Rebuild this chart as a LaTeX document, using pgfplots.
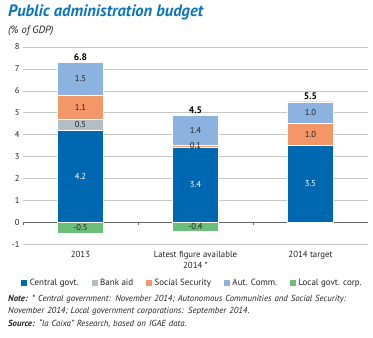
\documentclass[border=0pt]{standalone}
\usepackage{fontspec}
\setmainfont{PT Sans}
\usepackage{pgfplots}
\pgfplotsset{compat=1.18}
\definecolor{cgov}{HTML}{0067B1}
\definecolor{bank}{HTML}{B2BEC3}
\definecolor{soc}{HTML}{F39668}
\definecolor{aut}{HTML}{8CB3E0}
\definecolor{loc}{HTML}{6BBF7B}
\definecolor{titleblue}{HTML}{0A74BD}
\definecolor{txt}{HTML}{222222}
\pgfplotsset{base/.style={at={(23pt,94pt)}, anchor=south west,
  scale only axis, width=345pt, height=197pt,
  xmin=-0.5, xmax=2.5, ymin=-1, ymax=8}}
\begin{document}
\begin{tikzpicture}[x=1pt,y=1pt]
\path[use as bounding box] (0,0) rectangle (373,338);
\node[anchor=base west, inner sep=0, font=\fontsize{16.5}{18}\selectfont\bfseries\itshape, text=titleblue] at (8,321) {Public administration budget};
\node[anchor=base west, inner sep=0, font=\fontsize{10.5}{12}\selectfont\itshape, text=txt] at (8,304) {(\% of GDP)};
\begin{axis}[base,
  ybar stacked, bar width=46pt,
  xtick={0,1,2},
  xticklabels={2013,{Latest figure available\\2014 *},2014 target},
  xticklabel style={align=center, font=\fontsize{8.8}{11}\selectfont, text=txt, yshift=-4pt},
  ytick={-1,0,...,8},
  yticklabel style={font=\fontsize{8.5}{10}\selectfont, text=txt},
  /pgf/number format/assume math mode=true,
  ymajorgrids, major grid style={draw=black!22, line width=0.5pt},
  axis line style={draw=none}, tick style={draw=none},
  major tick length=0pt,
  legend columns=5,
  legend style={at={(0.49,-0.198)}, anchor=center, draw=none, font=\fontsize{9}{10}\selectfont, text=txt,
     /tikz/every even column/.append style={column sep=10pt}},
  legend image code/.code={\fill[#1] (0pt,-3.5pt) rectangle (7pt,3.5pt);},
  every axis plot/.append style={draw=white, line width=0.4pt},
]
\addplot[fill=cgov] coordinates {(0,4.2) (1,3.4) (2,3.5)};
\addplot[fill=bank] coordinates {(0,0.5) (1,0) (2,0)};
\addplot[fill=soc] coordinates {(0,1.1) (1,0.1) (2,1.0)};
\addplot[fill=aut] coordinates {(0,1.5) (1,1.4) (2,1.0)};
\addplot[fill=loc, stack plots=false] coordinates {(0,-0.5) (1,-0.4)};
\legend{Central govt.,Bank aid,Social Security,Aut. Comm.,Local govt. corp.}
\draw[black!60, line width=0.8pt] (axis cs:-0.5,0) -- (axis cs:2.5,0);
\draw[black!60, line width=0.6pt] (axis cs:-0.5,0) -- ++(0pt,-3pt);
\draw[black!60, line width=0.6pt] (axis cs:0.5,0) -- ++(0pt,-3pt);
\draw[black!60, line width=0.6pt] (axis cs:1.5,0) -- ++(0pt,-3pt);
\draw[black!60, line width=0.6pt] (axis cs:2.5,0) -- ++(0pt,-3pt);
\end{axis}
\begin{axis}[base, hide axis]
\addplot[only marks, mark=none, nodes near coords, point meta=explicit symbolic,
  every node near coord/.append style={anchor=center, font=\fontsize{8.6}{10}\selectfont, text=white}]
  coordinates {(0,2.1)[4.2] (1,1.7)[3.4] (2,1.75)[3.5]};
\addplot[only marks, mark=none, nodes near coords, point meta=explicit symbolic,
  every node near coord/.append style={anchor=center, font=\fontsize{8.6}{10}\selectfont, text=txt}]
  coordinates {(0,4.45)[0.5] (0,5.25)[1.1] (0,6.55)[1.5] (0,-0.25)[-0.5]
               (1,3.5)[0.1] (1,4.17)[1.4] (1,-0.2)[-0.4]
               (2,4.0)[1.0] (2,5.0)[1.0]};
\addplot[only marks, mark=none, nodes near coords, point meta=explicit symbolic,
  every node near coord/.append style={anchor=south, font=\fontsize{9.5}{10}\selectfont\bfseries, text=black, inner sep=1.5pt}]
  coordinates {(0,7.3)[6.8] (1,4.9)[4.5] (2,5.5)[5.5]};
\end{axis}
\node[anchor=north west, inner sep=0, text width=365pt, align=left, font=\fontsize{8.8}{12.3}\selectfont\itshape, text=txt] at (8,43)
{\textbf{Note:} * Central government: November 2014; Autonomous Communities and Social Security:\\
November 2014; Local government corporations: September 2014.\\
\textbf{Source:} ``la Caixa'' Research, based on IGAE data.};
\end{tikzpicture}
\end{document}
